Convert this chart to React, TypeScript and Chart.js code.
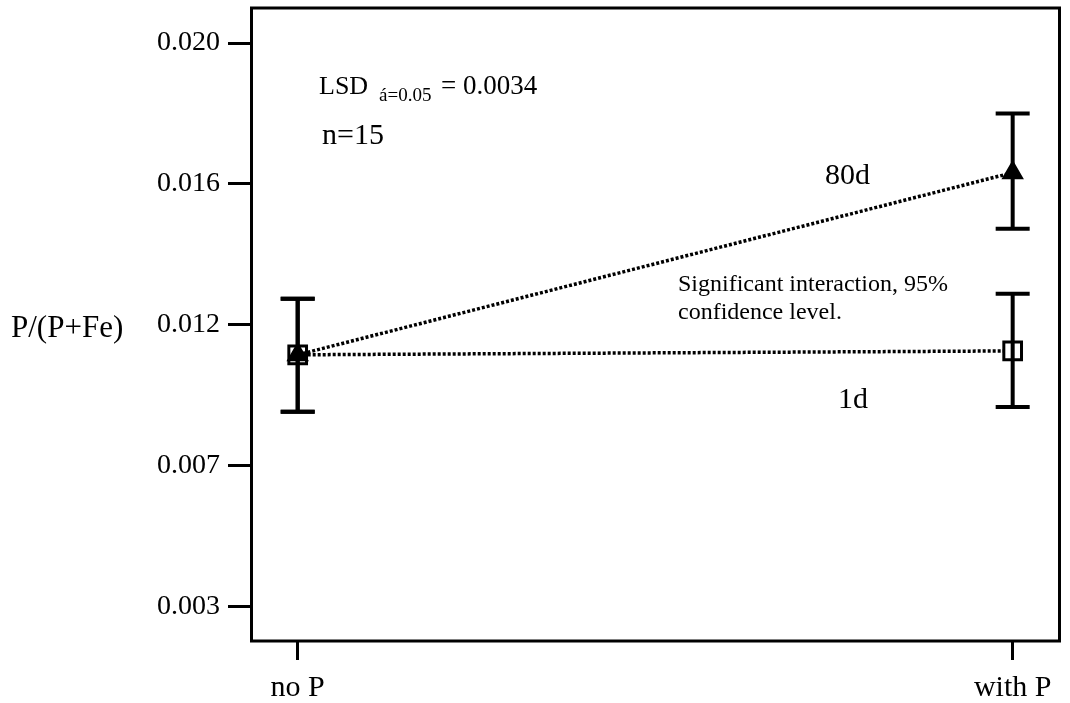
import React, { useEffect, useRef } from "react";
import { Chart, registerables } from "chart.js";
Chart.register(...registerables);

const FONT = "'Liberation Serif', 'Times New Roman', serif";

const categories = ["no P", "with P"];
const xPositions = [0, 1];
const yTickValues = [0.0035, 0.0075, 0.0115, 0.0155, 0.0195];
const yTickLabels = ["0.003", "0.007", "0.012", "0.016", "0.020"];

const mean1d = [0.01065, 0.01076];
const upper1d = [0.01224, 0.01238];
const lower1d = [0.00903, 0.00917];

const mean80d = [0.01065, 0.01582];
const upper80d = [0.01224, 0.0175];
const lower80d = [0.00903, 0.01423];

const seriesNames = ["80d", "1d"];
const yAxisTitle = "P/(P+Fe)";

const errorBars = [
  { upper: upper80d, lower: lower80d },
  { upper: upper1d, lower: lower1d },
];

const errorBarPlugin = {
  id: "errorBars",
  afterDatasetsDraw(chart: any) {
    const { ctx, scales } = chart;
    const xs = scales.x;
    const ys = scales.y;
    ctx.save();
    ctx.strokeStyle = "#000";
    ctx.lineWidth = 4;
    ctx.setLineDash([]);
    errorBars.forEach((eb) => {
      xPositions.forEach((xv, i) => {
        const px = xs.getPixelForValue(xv);
        const pt = ys.getPixelForValue(eb.upper[i]);
        const pb = ys.getPixelForValue(eb.lower[i]);
        ctx.beginPath();
        ctx.moveTo(px, pt);
        ctx.lineTo(px, pb);
        ctx.moveTo(px - 17, pt);
        ctx.lineTo(px + 17, pt);
        ctx.moveTo(px - 17, pb);
        ctx.lineTo(px + 17, pb);
        ctx.stroke();
      });
    });
    ctx.restore();
  },
};

const framePlugin = {
  id: "frame",
  afterDraw(chart: any) {
    const { ctx, chartArea } = chart;
    ctx.save();
    ctx.strokeStyle = "#000";
    ctx.lineWidth = 3;
    ctx.setLineDash([]);
    ctx.strokeRect(
      chartArea.left + 0.5,
      chartArea.top,
      chartArea.right - chartArea.left,
      chartArea.bottom - chartArea.top
    );
    ctx.restore();
  },
};

const tickLabelPlugin = {
  id: "tickLabels",
  afterDraw(chart: any) {
    const { ctx, scales } = chart;
    const xs = scales.x;
    const ys = scales.y;
    ctx.save();
    ctx.fillStyle = "#000";
    ctx.textBaseline = "middle";
    ctx.font = `28px ${FONT}`;
    ctx.textAlign = "right";
    yTickValues.forEach((v, i) => {
      ctx.fillText(yTickLabels[i], 220, ys.getPixelForValue(v));
    });
    ctx.font = `30px ${FONT}`;
    ctx.textAlign = "center";
    xPositions.forEach((v, i) => {
      ctx.fillText(categories[i], xs.getPixelForValue(v), 688);
    });
    ctx.restore();
  },
};

const textPlugin = {
  id: "texts",
  afterDraw(chart: any) {
    const { ctx } = chart;
    ctx.save();
    ctx.fillStyle = "#000";
    ctx.textBaseline = "alphabetic";
    ctx.textAlign = "left";
    // LSD line
    ctx.font = `26px ${FONT}`;
    ctx.fillText("LSD", 319, 94);
    ctx.font = `19px ${FONT}`;
    ctx.fillText("á=0.05", 379, 101);
    ctx.font = `27px ${FONT}`;
    ctx.fillText("= 0.0034", 441, 94);
    ctx.font = `30px ${FONT}`;
    ctx.fillText("n=15", 322, 144);
    // series labels
    ctx.font = `30px ${FONT}`;
    ctx.fillText(seriesNames[0], 825, 184);
    ctx.fillText(seriesNames[1], 838, 408);
    // interaction note
    ctx.font = `24px ${FONT}`;
    ctx.fillText("Significant interaction, 95%", 678, 291);
    ctx.fillText("confidence level.", 678, 319);
    // y-axis title
    ctx.font = `31px ${FONT}`;
    ctx.fillText(yAxisTitle, 11, 337);
    ctx.restore();
  },
};

export default function App() {
  const canvasRef = useRef<HTMLCanvasElement | null>(null);

  useEffect(() => {
    if (!canvasRef.current) return;
    const chart = new Chart(canvasRef.current, {
      type: "scatter",
      data: {
        datasets: [
          {
            label: seriesNames[0],
            data: xPositions.map((x, i) => ({ x, y: mean80d[i] })),
            showLine: true,
            borderColor: "#000",
            borderWidth: 3.5,
            borderDash: [3, 2],
            pointStyle: "triangle",
            pointRadius: 10,
            pointBorderWidth: 3,
            pointBorderColor: "#000",
            pointBackgroundColor: "#000",
          },
          {
            label: seriesNames[1],
            data: xPositions.map((x, i) => ({ x, y: mean1d[i] })),
            showLine: true,
            borderColor: "#000",
            borderWidth: 3.5,
            borderDash: [3, 2],
            pointStyle: "rect",
            pointRadius: 12.5,
            pointBorderWidth: 3,
            pointBorderColor: "#000",
            pointBackgroundColor: "#fff",
          },
        ],
      },
      options: {
        animation: false,
        responsive: true,
        maintainAspectRatio: false,
        layout: {
          autoPadding: false,
          padding: { left: 0, top: 8, right: 11, bottom: 0 },
        },
        plugins: {
          legend: { display: false },
          tooltip: { enabled: false },
          title: { display: false },
        },
        scales: {
          x: {
            type: "linear",
            min: -0.0653,
            max: 1.0648,
            afterBuildTicks: (s: any) => {
              s.ticks = xPositions.map((v) => ({ value: v }));
            },
            ticks: { display: false },
            grid: {
              drawOnChartArea: false,
              drawTicks: true,
              tickLength: 19,
              tickWidth: 3,
              tickColor: "#000",
              color: "#000",
              lineWidth: 3,
            },
            border: { display: false },
            afterFit: (s: any) => {
              s.height = 62;
              s.paddingLeft = 0;
              s.paddingRight = 0;
            },
          },
          y: {
            type: "linear",
            min: 0.002526,
            max: 0.020494,
            afterBuildTicks: (s: any) => {
              s.ticks = yTickValues.map((v) => ({ value: v }));
            },
            ticks: { display: false },
            grid: {
              drawOnChartArea: false,
              drawTicks: true,
              tickLength: 23,
              tickWidth: 3,
              tickColor: "#000",
              color: "#000",
              lineWidth: 3,
            },
            border: { display: false },
            afterFit: (s: any) => {
              s.width = 251;
              s.paddingTop = 0;
              s.paddingBottom = 0;
            },
          },
        },
      },
      plugins: [errorBarPlugin, framePlugin, tickLabelPlugin, textPlugin],
    });
    return () => chart.destroy();
  }, []);

  return (
    <div
      style={{
        position: "absolute",
        left: 0,
        top: 0,
        width: 1070,
        height: 703,
        background: "#fff",
      }}
    >
      <canvas ref={canvasRef} style={{ display: "block" }} />
    </div>
  );
}
